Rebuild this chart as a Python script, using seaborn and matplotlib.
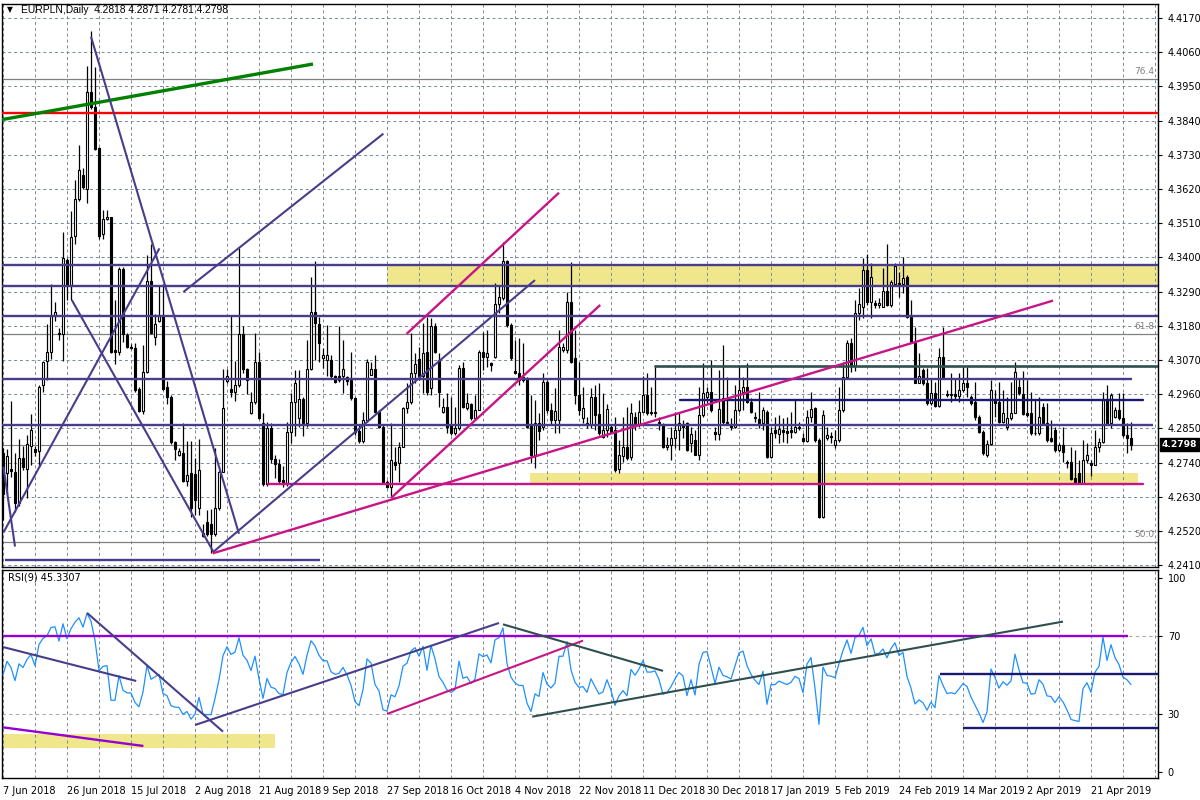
import numpy as np
import pandas as pd
import seaborn as sns
import matplotlib
matplotlib.use("Agg")
import matplotlib.pyplot as plt
import matplotlib.transforms as mtransforms
from matplotlib.patches import Rectangle

# ---- EURPLN daily candles ----
opens = [
    4.2772, 4.2705, 4.2720, 4.2710, 4.2610, 4.2755, 4.2721, 4.2794, 4.2783, 4.2777,
    4.2990, 4.3068, 4.3096, 4.3213, 4.3157, 4.3152, 4.3392, 4.3308, 4.3470, 4.3587,
    4.3665, 4.3621, 4.3933, 4.3883, 4.3752, 4.3475, 4.3522, 4.3529, 4.3101, 4.3096,
    4.3362, 4.3149, 4.3112, 4.3107, 4.2978, 4.2906, 4.3031, 4.3325, 4.3143, 4.3196,
    4.3213, 4.2984, 4.2950, 4.2805, 4.2766, 4.2772, 4.2682, 4.2705, 4.2702, 4.2593,
    4.2504, 4.2548, 4.2543, 4.2509, 4.2593, 4.2710, 4.3001, 4.2978, 4.2967, 4.2990,
    4.3152, 4.3040, 4.2900, 4.2934, 4.3062, 4.2867, 4.2670, 4.2850, 4.2750, 4.2735,
    4.2685, 4.2670, 4.2840, 4.2936, 4.2883, 4.2944, 4.2866, 4.3040, 4.3223, 4.3186,
    4.3075, 4.3070, 4.3070, 4.3017, 4.3017, 4.3017, 4.3014, 4.3006, 4.2947, 4.2843,
    4.2808, 4.2877, 4.3022, 4.3040, 4.2904, 4.2856, 4.2679, 4.2663, 4.2743, 4.2738,
    4.2791, 4.2915, 4.2936, 4.3029, 4.3072, 4.3017, 4.3095, 4.2979, 4.3180, 4.3070,
    4.2904, 4.2920, 4.2861, 4.2834, 4.2850, 4.3043, 4.2915, 4.2929, 4.2883, 4.2909,
    4.3097, 4.3081, 4.3059, 4.3081, 4.3250, 4.3268, 4.3389, 4.3183, 4.3033, 4.3027,
    4.3016, 4.3011, 4.2861, 4.2765, 4.2866, 4.2856, 4.3000, 4.2909, 4.2877, 4.2877,
    4.3102, 4.3102, 4.3258, 4.3075, 4.2957, 4.2882, 4.2861, 4.2861, 4.2952, 4.2897,
    4.2823, 4.2845, 4.2855, 4.2845, 4.2718, 4.2761, 4.2791, 4.2757, 4.2888, 4.2861,
    4.2904, 4.2957, 4.2904, 4.2898, 4.2872, 4.2861, 4.2789, 4.2797, 4.2818, 4.2845,
    4.2861, 4.2866, 4.2802, 4.2813, 4.2764, 4.2893, 4.2952, 4.2968, 4.2840, 4.2832,
    4.2947, 4.2872, 4.2861, 4.2856, 4.2909, 4.2968, 4.2984, 4.2936, 4.2888, 4.2880,
    4.2866, 4.2904, 4.2759, 4.2845, 4.2832, 4.2845, 4.2842, 4.2845, 4.2840, 4.2856,
    4.2818, 4.2810, 4.2888, 4.2915, 4.2813, 4.2564, 4.2818, 4.2826, 4.2797, 4.2813,
    4.2909, 4.3016, 4.3124, 4.3050, 4.3220, 4.3241, 4.3359, 4.3258, 4.3253, 4.3247,
    4.3241, 4.3293, 4.3247, 4.3316, 4.3319, 4.3313, 4.3336, 4.3207, 4.3124, 4.2997,
    4.3038, 4.2995, 4.2931, 4.2965, 4.2922, 4.3081, 4.2961, 4.2957, 4.2961, 4.2954,
    4.2974, 4.2995, 4.2952, 4.2936, 4.2888, 4.2840, 4.2764, 4.2800, 4.2939, 4.2936,
    4.2872, 4.2856, 4.2883, 4.2900, 4.2984, 4.2961, 4.2899, 4.2899, 4.2834, 4.2834,
    4.2920, 4.2868, 4.2818, 4.2845, 4.2781, 4.2797, 4.2743, 4.2743, 4.2689, 4.2706,
    4.2675, 4.2748, 4.2738, 4.2732, 4.2789, 4.2807, 4.2941, 4.2866, 4.2888, 4.2909,
    4.2882, 4.2829, 4.2818,
]
highs = [
    4.2788, 4.2783, 4.2939, 4.2772, 4.2816, 4.2794, 4.2828, 4.2895, 4.2794, 4.2990,
    4.3068, 4.3185, 4.3313, 4.3258, 4.3174, 4.3481, 4.3397, 4.3548, 4.3649, 4.3760,
    4.3688, 4.4017, 4.4129, 4.4012, 4.3755, 4.3554, 4.3554, 4.3531, 4.3263, 4.3369,
    4.3369, 4.3157, 4.3120, 4.3124, 4.2984, 4.3118, 4.3408, 4.3442, 4.3219, 4.3308,
    4.3313, 4.3001, 4.2956, 4.2811, 4.2788, 4.2867, 4.2811, 4.2811, 4.2755, 4.2816,
    4.2543, 4.2587, 4.2591, 4.2788, 4.2716, 4.3040, 4.3040, 4.3213, 4.3068, 4.3431,
    4.3180, 4.3045, 4.2967, 4.3157, 4.3096, 4.2900, 4.2870, 4.2867, 4.2765, 4.2750,
    4.2730, 4.2872, 4.2963, 4.3038, 4.3038, 4.2952, 4.3134, 4.3338, 4.3389, 4.3209,
    4.3108, 4.3183, 4.3086, 4.3022, 4.3180, 4.3134, 4.3017, 4.3097, 4.2952, 4.2861,
    4.2904, 4.3073, 4.3065, 4.3086, 4.2909, 4.2861, 4.2684, 4.2866, 4.2791, 4.2807,
    4.2920, 4.2995, 4.3156, 4.3092, 4.3113, 4.3188, 4.3209, 4.3204, 4.3188, 4.3092,
    4.2947, 4.2963, 4.2952, 4.2920, 4.3054, 4.3065, 4.2963, 4.2931, 4.2958, 4.3102,
    4.3161, 4.3167, 4.3065, 4.3317, 4.3311, 4.3451, 4.3392, 4.3188, 4.3134, 4.3140,
    4.3124, 4.3016, 4.2958, 4.2941, 4.2898, 4.3027, 4.3006, 4.2931, 4.2979, 4.3167,
    4.3124, 4.3290, 4.3385, 4.3166, 4.3065, 4.2984, 4.2888, 4.2979, 4.2990, 4.2995,
    4.2963, 4.2928, 4.2861, 4.2888, 4.2813, 4.2888, 4.2920, 4.2931, 4.2904, 4.2941,
    4.3018, 4.3027, 4.2984, 4.3054, 4.2888, 4.2866, 4.2823, 4.2856, 4.2904, 4.2904,
    4.2877, 4.2872, 4.2856, 4.2845, 4.2984, 4.3059, 4.2984, 4.3070, 4.2856, 4.3038,
    4.3118, 4.3016, 4.2882, 4.2990, 4.3054, 4.3016, 4.3059, 4.2947, 4.2904, 4.2968,
    4.2920, 4.2909, 4.2856, 4.2888, 4.2893, 4.2882, 4.2888, 4.2904, 4.2941, 4.2872,
    4.2834, 4.2909, 4.2968, 4.2920, 4.2818, 4.2909, 4.2856, 4.2840, 4.2845, 4.2984,
    4.3065, 4.3134, 4.3140, 4.3263, 4.3300, 4.3397, 4.3411, 4.3381, 4.3263, 4.3268,
    4.3365, 4.3443, 4.3327, 4.3381, 4.3354, 4.3402, 4.3343, 4.3263, 4.3177, 4.3093,
    4.3043, 4.3043, 4.3011, 4.3000, 4.3108, 4.3177, 4.2974, 4.3027, 4.3011, 4.3027,
    4.3049, 4.3049, 4.2957, 4.3000, 4.2893, 4.2845, 4.2813, 4.3006, 4.2974, 4.3000,
    4.2974, 4.2952, 4.3000, 4.3065, 4.3011, 4.3036, 4.3006, 4.2968, 4.2941, 4.2952,
    4.2931, 4.2931, 4.2877, 4.2856, 4.2802, 4.2856, 4.2748, 4.2791, 4.2781, 4.2748,
    4.2813, 4.2802, 4.2748, 4.2845, 4.2818, 4.2968, 4.2990, 4.2963, 4.2920, 4.2963,
    4.2963, 4.2866, 4.2871,
]
lows = [
    4.2554, 4.2638, 4.2694, 4.2582, 4.2600, 4.2716, 4.2627, 4.2733, 4.2761, 4.2727,
    4.2967, 4.3006, 4.3073, 4.3196, 4.3135, 4.3068, 4.3263, 4.3263, 4.3442, 4.3580,
    4.3621, 4.3576, 4.3878, 4.3744, 4.3459, 4.3459, 4.3520, 4.3093, 4.3057, 4.3085,
    4.3129, 4.3109, 4.3105, 4.2967, 4.2904, 4.2895, 4.3029, 4.3152, 4.3118, 4.3191,
    4.2973, 4.2928, 4.2800, 4.2749, 4.2761, 4.2677, 4.2666, 4.2565, 4.2571, 4.2571,
    4.2502, 4.2504, 4.2449, 4.2504, 4.2587, 4.2710, 4.2995, 4.2950, 4.2939, 4.2984,
    4.3029, 4.2962, 4.2895, 4.2928, 4.2881, 4.2665, 4.2665, 4.2740, 4.2690, 4.2672,
    4.2660, 4.2665, 4.2802, 4.2824, 4.2856, 4.2824, 4.2856, 4.3038, 4.3070, 4.3065,
    4.3043, 4.3017, 4.3011, 4.2995, 4.3000, 4.2963, 4.2990, 4.2941, 4.2829, 4.2802,
    4.2802, 4.2872, 4.3022, 4.2898, 4.2850, 4.2673, 4.2657, 4.2631, 4.2716, 4.2679,
    4.2791, 4.2898, 4.2930, 4.2995, 4.3006, 4.2963, 4.2958, 4.2958, 4.3091, 4.2920,
    4.2898, 4.2834, 4.2829, 4.2829, 4.2845, 4.2915, 4.2909, 4.2877, 4.2877, 4.2909,
    4.3038, 4.3049, 4.3033, 4.3075, 4.3220, 4.3263, 4.3177, 4.3070, 4.3027, 4.2990,
    4.3000, 4.2850, 4.2738, 4.2722, 4.2813, 4.2845, 4.2898, 4.2861, 4.2834, 4.2834,
    4.3097, 4.3092, 4.3059, 4.2930, 4.2893, 4.2866, 4.2850, 4.2850, 4.2845, 4.2829,
    4.2818, 4.2823, 4.2834, 4.2711, 4.2705, 4.2743, 4.2748, 4.2748, 4.2845, 4.2855,
    4.2904, 4.2893, 4.2893, 4.2888, 4.2845, 4.2786, 4.2781, 4.2748, 4.2786, 4.2781,
    4.2818, 4.2778, 4.2775, 4.2764, 4.2748, 4.2888, 4.2931, 4.2904, 4.2813, 4.2813,
    4.2861, 4.2861, 4.2845, 4.2850, 4.2904, 4.2909, 4.2931, 4.2898, 4.2872, 4.2850,
    4.2845, 4.2754, 4.2754, 4.2818, 4.2802, 4.2807, 4.2802, 4.2818, 4.2834, 4.2845,
    4.2807, 4.2807, 4.2872, 4.2807, 4.2561, 4.2561, 4.2813, 4.2802, 4.2786, 4.2807,
    4.2904, 4.3011, 4.3030, 4.3033, 4.3200, 4.3204, 4.3247, 4.3204, 4.3236, 4.3236,
    4.3239, 4.3244, 4.3241, 4.3316, 4.3274, 4.3284, 4.3204, 4.3124, 4.2995, 4.2995,
    4.2990, 4.2925, 4.2925, 4.2920, 4.2920, 4.3011, 4.2952, 4.2936, 4.2941, 4.2936,
    4.2968, 4.2952, 4.2925, 4.2877, 4.2834, 4.2764, 4.2759, 4.2797, 4.2888, 4.2866,
    4.2866, 4.2845, 4.2877, 4.2898, 4.2957, 4.2893, 4.2888, 4.2829, 4.2829, 4.2829,
    4.2866, 4.2807, 4.2807, 4.2775, 4.2775, 4.2743, 4.2722, 4.2684, 4.2673, 4.2673,
    4.2673, 4.2738, 4.2697, 4.2732, 4.2775, 4.2802, 4.2861, 4.2850, 4.2882, 4.2877,
    4.2823, 4.2770, 4.2781,
]
closes = [
    4.2638, 4.2761, 4.2714, 4.2610, 4.2755, 4.2727, 4.2800, 4.2844, 4.2774, 4.2984,
    4.3062, 4.3096, 4.3213, 4.3224, 4.3152, 4.3397, 4.3308, 4.3464, 4.3587, 4.3680,
    4.3626, 4.3933, 4.3883, 4.3749, 4.3470, 4.3522, 4.3531, 4.3096, 4.3096, 4.3362,
    4.3152, 4.3112, 4.3110, 4.2973, 4.2906, 4.3031, 4.3325, 4.3157, 4.3185, 4.3213,
    4.2978, 4.2950, 4.2805, 4.2783, 4.2777, 4.2682, 4.2699, 4.2593, 4.2621, 4.2716,
    4.2515, 4.2509, 4.2509, 4.2593, 4.2710, 4.2917, 4.3018, 4.2967, 4.2990, 4.3152,
    4.3040, 4.3006, 4.2934, 4.3062, 4.2884, 4.2670, 4.2850, 4.2750, 4.2735, 4.2680,
    4.2670, 4.2840, 4.2936, 4.2995, 4.2944, 4.2866, 4.3040, 4.3223, 4.3188, 4.3124,
    4.3086, 4.3086, 4.3017, 4.3000, 4.3006, 4.3040, 4.3003, 4.2947, 4.2840, 4.2808,
    4.2877, 4.3062, 4.3040, 4.2904, 4.2856, 4.2679, 4.2663, 4.2749, 4.2733, 4.2791,
    4.2915, 4.2936, 4.3029, 4.3057, 4.3017, 4.3092, 4.2968, 4.3180, 4.3097, 4.2968,
    4.2920, 4.2856, 4.2834, 4.2850, 4.3043, 4.2920, 4.2931, 4.2883, 4.2909, 4.3097,
    4.3081, 4.3094, 4.3054, 4.3250, 4.3274, 4.3389, 4.3183, 4.3075, 4.3027, 4.3006,
    4.3006, 4.2856, 4.2765, 4.2866, 4.2843, 4.3000, 4.2909, 4.2877, 4.2907, 4.3113,
    4.3113, 4.3258, 4.3065, 4.2957, 4.2909, 4.2914, 4.2866, 4.2952, 4.2893, 4.2834,
    4.2845, 4.2911, 4.2839, 4.2716, 4.2764, 4.2791, 4.2754, 4.2901, 4.2866, 4.2904,
    4.2957, 4.2898, 4.2898, 4.2904, 4.2866, 4.2791, 4.2797, 4.2818, 4.2845, 4.2868,
    4.2856, 4.2780, 4.2832, 4.2764, 4.2893, 4.2963, 4.2968, 4.2909, 4.2832, 4.2911,
    4.2872, 4.2866, 4.2856, 4.2909, 4.2974, 4.2984, 4.2936, 4.2904, 4.2882, 4.2866,
    4.2909, 4.2759, 4.2834, 4.2834, 4.2847, 4.2840, 4.2834, 4.2840, 4.2856, 4.2850,
    4.2810, 4.2888, 4.2911, 4.2813, 4.2566, 4.2893, 4.2829, 4.2823, 4.2813, 4.2909,
    4.3016, 4.3124, 4.3050, 4.3220, 4.3250, 4.3359, 4.3258, 4.3338, 4.3247, 4.3253,
    4.3293, 4.3247, 4.3322, 4.3372, 4.3313, 4.3333, 4.3207, 4.3129, 4.2997, 4.3018,
    4.2995, 4.2931, 4.2965, 4.2922, 4.3081, 4.3016, 4.2957, 4.2961, 4.2954, 4.2974,
    4.2995, 4.2982, 4.2931, 4.2888, 4.2840, 4.2770, 4.2800, 4.2974, 4.2931, 4.2872,
    4.2900, 4.2883, 4.2900, 4.3032, 4.2963, 4.2896, 4.2893, 4.2834, 4.2836, 4.2888,
    4.2868, 4.2813, 4.2810, 4.2781, 4.2797, 4.2775, 4.2738, 4.2686, 4.2679, 4.2675,
    4.2748, 4.2764, 4.2732, 4.2789, 4.2807, 4.2941, 4.2866, 4.2957, 4.2909, 4.2882,
    4.2829, 4.2818, 4.2798,
]

date_labels = ["7 Jun 2018", "26 Jun 2018", "15 Jul 2018", "2 Aug 2018", "21 Aug 2018",
               "9 Sep 2018", "27 Sep 2018", "16 Oct 2018", "4 Nov 2018", "22 Nov 2018",
               "11 Dec 2018", "30 Dec 2018", "17 Jan 2019", "5 Feb 2019", "24 Feb 2019",
               "14 Mar 2019", "2 Apr 2019", "21 Apr 2019"]
date_label_bars = [0, 16, 32, 48, 64, 80, 96, 112, 128, 144, 160, 176, 192, 208, 224, 240, 256, 272]
price_ticks = [4.2410, 4.2520, 4.2630, 4.2740, 4.2850, 4.2960, 4.3070, 4.3180, 4.3290,
               4.3400, 4.3510, 4.3620, 4.3730, 4.3840, 4.3950, 4.4060, 4.4170]
rsi_ticks = [0, 30, 70, 100]

# ---- objects drawn on the chart ----
purple_levels = [4.3375, 4.3308, 4.3212, 4.3009, 4.2861, 4.2427]
purple_level_start = [-1, -1, -1, -1, -1, 0.5]
purple_level_end = [290, 290, 290, 282.2, 287.5, 79.3]
red_level = 4.3864
slate_level, slate_start = 4.3051, 163
navy_level, navy_start, navy_end = 4.2941, 169.3, 285
magenta_level, magenta_start, magenta_end = 4.2671, 66.3, 285
fib_levels = [4.3974, 4.3153, 4.2485]
fib_names = ["76.4", "61.8", "50.0"]
zone_high = (96, 290, 4.3308, 4.3375)
zone_low = (131.8, 283.8, 4.2671, 4.2707)

green_trend = [(-0.75, 4.3842, 77.5, 4.4022)]
purple_trends = [(22, 4.4110, 59, 4.2511), (17.2, 4.3263, 52.6, 4.2453),
                 (0.1, 4.2515, 39.1, 4.3429), (0.1, 4.2727, 3, 4.2470),
                 (52.6, 4.2453, 133, 4.3327), (45.1, 4.3289, 95.1, 4.3798)]
magenta_trends = [(52.4, 4.2448, 262.5, 4.3261), (97, 4.2626, 149.3, 4.3247),
                  (100.9, 4.3154, 139, 4.3608)]

# RSI window objects
rsi_violet = [(0, 70, 281.3, 70), (0, 23.0, 35.1, 13.4)]
rsi_purple = [(0, 64.4, 33.3, 46.9), (21, 82.0, 55, 20.8), (48, 24.2, 124, 76.8)]
rsi_magenta = [(96, 29.9, 145, 67.7)]
rsi_slate = [(125, 76.1, 165, 52.1), (132.3, 28.5, 265, 77.5)]
rsi_navy = [(234.3, 50.5, 290, 50.5), (240, 22.8, 290, 22.8)]
rsi_zone = (0, 68, 12.5, 19.6)


def rsi_mt4(close, period=9):
    """Wilder RSI; history before the first bar is unknown, so the
    averages start out balanced (RSI 50) and settle after a few bars."""
    close = np.asarray(close)
    diff = np.diff(close)
    up = np.clip(diff, 0, None)
    dn = np.clip(-diff, 0, None)
    out = np.full(len(close), np.nan)
    ag = al = np.abs(diff[:period]).mean() / 2
    out[0] = 50.0
    for i in range(1, len(close)):
        ag = (ag * (period - 1) + up[i - 1]) / period
        al = (al * (period - 1) + dn[i - 1]) / period
        out[i] = 100.0 if al == 0 else 100 - 100 / (1 + ag / al)
    return out


df = pd.DataFrame({"open": opens, "high": highs, "low": lows, "close": closes})
df["bar"] = np.arange(len(df))
df["high"] = np.maximum(df["high"], df[["open", "close"]].max(axis=1))
df["low"] = np.minimum(df["low"], df[["open", "close"]].min(axis=1))
df["rsi"] = rsi_mt4(df["close"])

sns.set_style("white")
plt.rcParams["font.family"] = ["DejaVu Sans"]
plt.rcParams["font.size"] = 7

GRID = "#778899"
PURPLE = "#483D8B"
MAGENTA = "#C71585"

fig = plt.figure(figsize=(12, 8), dpi=100, facecolor="white")
ax = fig.add_axes([2 / 1200, 1 - 567 / 800, 1156 / 1200, 563 / 800])
ax_rsi = fig.add_axes([2 / 1200, 1 - 778 / 800, 1156 / 1200, 208 / 800])

XMIN, XMAX = -0.25, 288.75
for a in (ax, ax_rsi):
    a.set_xlim(XMIN, XMAX)
    for s in a.spines.values():
        s.set_color("black")
        s.set_linewidth(1)
    for b in range(0, 289, 8):
        a.axvline(b, color=GRID, lw=0.7, ls=(0, (3, 3)), zorder=1.5)

ax.set_ylim(4.24042, 4.42150)
ax_rsi.set_ylim(-3.1, 104.1)

# ---- main window ----
for p in price_ticks:
    ax.axhline(p, color=GRID, lw=0.7, ls=(0, (3, 3)), zorder=1.5)

for (x0, x1, y0, y1) in (zone_high, zone_low):
    ax.add_patch(Rectangle((x0, y0), x1 - x0, y1 - y0, facecolor="#F0E68C",
                           edgecolor="none", zorder=1))

for lvl in fib_levels:
    ax.axhline(lvl, color="#808080", lw=0.9, zorder=2)
ax.axhline(closes[-1], color="#808080", lw=0.8, zorder=2)

# candles
up = df["close"] >= df["open"]
ax.vlines(df["bar"], df["low"], df["high"], color="black", lw=0.9, zorder=3)
body = (df["close"] - df["open"]).abs().clip(lower=0.00004)
ax.bar(df["bar"], body, bottom=df[["open", "close"]].min(axis=1), width=0.55,
       color=np.where(up, "white", "black"), edgecolor="black", linewidth=0.8, zorder=4)

# horizontal levels
for lvl, x0, x1 in zip(purple_levels, purple_level_start, purple_level_end):
    ax.plot([x0, x1], [lvl, lvl], color=PURPLE, lw=1.7, zorder=5, solid_capstyle="butt")
ax.axhline(red_level, color="#FF0000", lw=1.7, zorder=5)
ax.plot([slate_start, 290], [slate_level] * 2, color="#2F4F4F", lw=1.9, zorder=5)
ax.plot([navy_start, navy_end], [navy_level] * 2, color="#191970", lw=1.7, zorder=5)
ax.plot([magenta_start, magenta_end], [magenta_level] * 2, color=MAGENTA, lw=1.7, zorder=5)

for lines, col, lw in ((green_trend, "#008000", 2.4), (purple_trends, PURPLE, 1.5),
                       (magenta_trends, MAGENTA, 1.7)):
    for (x0, y0, x1, y1) in lines:
        ax.plot([x0, x1], [y0, y1], color=col, lw=lw, zorder=5, solid_capstyle="butt")

# fibonacci labels
trans = mtransforms.blended_transform_factory(ax.transAxes, ax.transData)
for lvl, name in zip(fib_levels, fib_names):
    ax.annotate(name, xy=(0.997, lvl), xycoords=trans, xytext=(0, 2),
                textcoords="offset points", ha="right", va="bottom",
                color="#808080", fontsize=6.5, zorder=6)

ax.yaxis.tick_right()
ax.set_yticks(price_ticks)
ax.set_yticklabels([f"{p:.4f}" for p in price_ticks])
ax.tick_params(axis="y", direction="out", length=3, width=0.8, pad=4,
               labelsize=7, colors="black")
ax.set_xticks([])

ax.annotate(f"{closes[-1]:.4f}", xy=(1, closes[-1]), xycoords=trans, xytext=(2.5, 0),
            textcoords="offset points", ha="left", va="center", color="white",
            fontsize=6.6, fontweight="bold", annotation_clip=False,
            bbox=dict(boxstyle="square,pad=0.18", fc="black", ec="black"), zorder=7)

ax.text(0.0045, 0.9895, "\u25BC", transform=ax.transAxes, fontsize=5.5,
        ha="left", va="center", color="black")
ax.text(0.0165, 0.9895,
        f"EURPLN,Daily  {opens[-1]:.4f} {highs[-1]:.4f} {lows[-1]:.4f} {closes[-1]:.4f}",
        transform=ax.transAxes, fontsize=7.4, ha="left", va="center", color="black",
        family=["Liberation Sans", "DejaVu Sans"])

# ---- RSI window ----
for lvl in (30, 70):
    ax_rsi.axhline(lvl, color="#A9A9A9", lw=0.8, ls=(0, (3, 3)), zorder=1.5)
x0, x1, y0, y1 = rsi_zone
ax_rsi.add_patch(Rectangle((x0, y0), x1 - x0, y1 - y0, facecolor="#F0E68C",
                           edgecolor="none", zorder=1))

sns.lineplot(data=df, x="bar", y="rsi", ax=ax_rsi, color="#1E90FF", lw=0.9, zorder=3)

for lines, col, lw in ((rsi_violet, "#9400D3", 1.7), (rsi_purple, PURPLE, 1.5),
                       (rsi_magenta, MAGENTA, 1.5), (rsi_slate, "#2F4F4F", 1.5),
                       (rsi_navy, "#191970", 1.7)):
    for (a0, b0, a1, b1) in lines:
        ax_rsi.plot([a0, a1], [b0, b1], color=col, lw=lw, zorder=4, solid_capstyle="butt")

ax_rsi.text(0.0052, 0.962, "RSI(9) 45.3307", transform=ax_rsi.transAxes,
            fontsize=7, ha="left", va="center", color="black")

ax_rsi.set_xlabel("")
ax_rsi.set_ylabel("")
ax_rsi.yaxis.tick_right()
ax_rsi.set_yticks(rsi_ticks)
ax_rsi.set_yticklabels([str(v) for v in rsi_ticks])
ax_rsi.tick_params(axis="y", direction="out", length=3, width=0.8, pad=4,
                   labelsize=7, colors="black")
ax_rsi.set_xticks(date_label_bars)
ax_rsi.set_xticklabels(date_labels, ha="left")
ax_rsi.tick_params(axis="x", direction="out", length=4, width=0.8, pad=2,
                   labelsize=7, colors="black")

fig.savefig("out.png", dpi=100, facecolor="white")
